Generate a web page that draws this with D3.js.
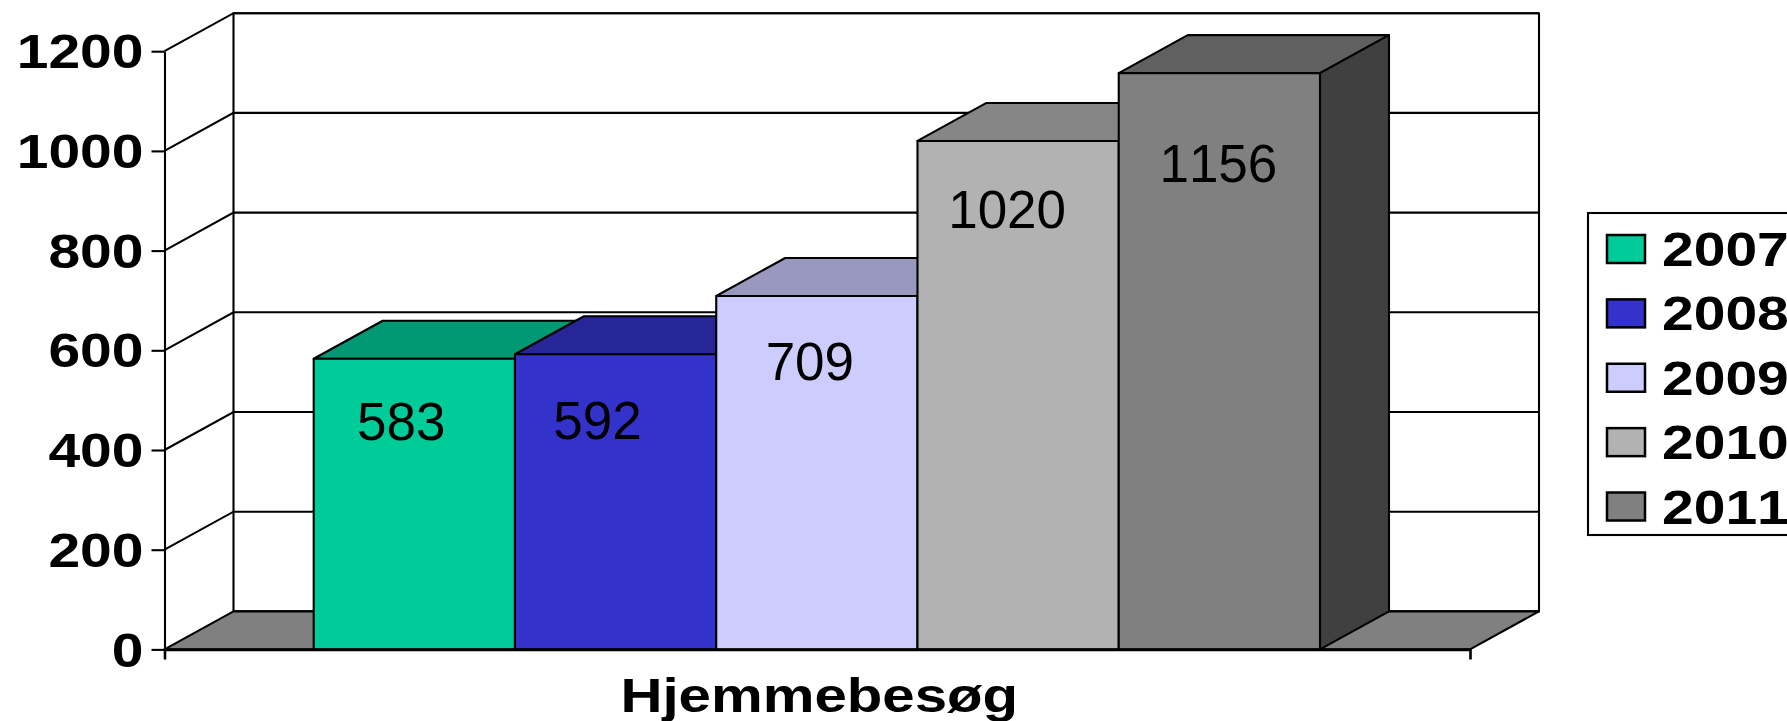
<!DOCTYPE html>
<html>
  <head>
    <meta charset="utf-8">
    <title>Hjemmebesøg</title>
    <script src="https://cdn.jsdelivr.net/npm/d3@7"></script>
    <style>
      body { margin: 0; background: #fff; }
      svg { display: block; }
      text { font-family: "Liberation Sans", Arial, sans-serif; fill: #000; font-kerning: none; }
    </style>
  </head>
  <body>
    <svg id="container" width="1787" height="721"></svg>
    <script>
      const years = ["2007", "2008", "2009", "2010", "2011"];
      const visits = [583, 592, 709, 1020, 1156];
      const yTicks = [0, 200, 400, 600, 800, 1000, 1200];
      const category = "Hjemmebesøg";

      const frontColors = ["#00CC99", "#3333CC", "#CCCCFF", "#B2B2B2", "#808080"];
      const topColors = ["#009973", "#262699", "#9999BF", "#868686", "#606060"];
      const sideColors = ["#007356", "#1D1D73", "#737390", "#646464", "#404040"];

      // the data labels sit by hand in the original, so nudge them from the bar centre / bar top
      const labelNudgeX = [-13, -18, -7, -11, -1];
      const labelNudgeY = [81, 85, 84, 87, 109];

      const depthX = 69;
      const depthY = 38;
      const stretch = 1.2; // the original bold text is stretched wide
      const titleStretch = 1.225;
      const boldSize = 47.5;
      const lineW = 2.1;

      const svg = d3.select("#container");

      const y = d3.scaleLinear().domain([0, 1200]).range([649.4, 51.2]);
      const xOuter = d3.scaleBand().domain([category]).range([164.5, 1470]);
      const x = d3.scaleBand().domain(years).range([313.7, 1320]);

      const poly = pts => pts.map(p => p.join(",")).join(" ");
      const shape = (pts, fill) => svg.append("polygon")
        .attr("points", poly(pts))
        .attr("fill", fill)
        .attr("stroke", "#000")
        .attr("stroke-width", lineW)
        .attr("stroke-linejoin", "round");

      // walls and floor
      const [x0, x1] = xOuter.range();
      const yBottom = y(0);
      const yTop = y(1200);
      shape([[x0 + depthX, yTop - depthY], [x1 + depthX, yTop - depthY], [x1 + depthX, yBottom - depthY], [x0 + depthX, yBottom - depthY]], "#fff");
      shape([[x0, yBottom], [x0 + depthX, yBottom - depthY], [x1 + depthX, yBottom - depthY], [x1, yBottom]], "#808080");

      // gridlines, along the side wall and across the back wall
      const grid = svg.append("g").attr("fill", "none").attr("stroke", "#000").attr("stroke-width", lineW);
      grid.selectAll("path")
        .data(yTicks.slice(1))
        .join("path")
        .attr("d", d => `M${x0},${y(d)}L${x0 + depthX},${y(d) - depthY}L${x1 + depthX},${y(d) - depthY}`);

      // bars, left to right so each one covers the hidden part of the one before
      years.forEach((year, i) => {
        const left = x(year);
        const right = left + x.bandwidth();
        const top = y(visits[i]);
        shape([[left, top], [left + depthX, top - depthY], [right + depthX, top - depthY], [right, top]], topColors[i]);
        shape([[right, top], [right + depthX, top - depthY], [right + depthX, yBottom - depthY], [right, yBottom]], sideColors[i]);
        shape([[left, top], [right, top], [right, yBottom], [left, yBottom]], frontColors[i]);
      });

      // data labels
      svg.append("g")
        .selectAll("text")
        .data(visits)
        .join("text")
        .attr("x", (d, i) => x(years[i]) + x.bandwidth() / 2 + labelNudgeX[i])
        .attr("y", (d, i) => y(d) + labelNudgeY[i])
        .attr("text-anchor", "middle")
        .attr("font-size", 53)
        .text(d => d);

      // axes
      const yAxis = svg.append("g")
        .attr("transform", `translate(${x0},0)`)
        .call(d3.axisLeft(y).tickValues(yTicks).tickFormat(d3.format("d")).tickSize(13).tickSizeOuter(0));
      yAxis.selectAll("path, line").attr("stroke", "#000").attr("stroke-width", lineW);
      yAxis.selectAll("text")
        .attr("x", 0)
        .attr("dy", "0.35em")
        .attr("transform", `translate(-21,0) scale(${stretch},1)`)
        .attr("font-size", boldSize)
        .attr("font-weight", "bold")
        .attr("font-family", "Liberation Sans");

      const xAxis = svg.append("g")
        .attr("transform", `translate(0,${yBottom})`)
        .call(d3.axisBottom(xOuter).tickSizeInner(0).tickSizeOuter(10));
      xAxis.selectAll("path").attr("stroke", "#000").attr("stroke-width", 2.6);
      xAxis.selectAll("line").remove();
      xAxis.selectAll("text")
        .attr("y", 0)
        .attr("dy", 0)
        .attr("transform", `translate(2,63) scale(${titleStretch},1)`)
        .attr("font-size", boldSize)
        .attr("font-weight", "bold")
        .attr("font-family", "Liberation Sans");

      // legend, runs off the right edge of the page like the original
      svg.append("rect")
        .attr("x", 1588)
        .attr("y", 213)
        .attr("width", 240)
        .attr("height", 322)
        .attr("fill", "#fff")
        .attr("stroke", "#000")
        .attr("stroke-width", lineW);

      const legendY = d3.scalePoint().domain(years).range([249, 506.5]);
      const legend = svg.append("g")
        .selectAll("g")
        .data(years)
        .join("g")
        .attr("transform", d => `translate(0,${legendY(d)})`);
      legend.append("rect")
        .attr("x", 1607)
        .attr("y", -14)
        .attr("width", 38)
        .attr("height", 28)
        .attr("fill", (d, i) => frontColors[i])
        .attr("stroke", "#000")
        .attr("stroke-width", lineW + 0.4);
      legend.append("text")
        .attr("transform", `translate(1662,17) scale(${stretch},1)`)
        .attr("font-size", boldSize)
        .attr("font-weight", "bold")
        .text(d => d);
    </script>
  </body>
</html>
